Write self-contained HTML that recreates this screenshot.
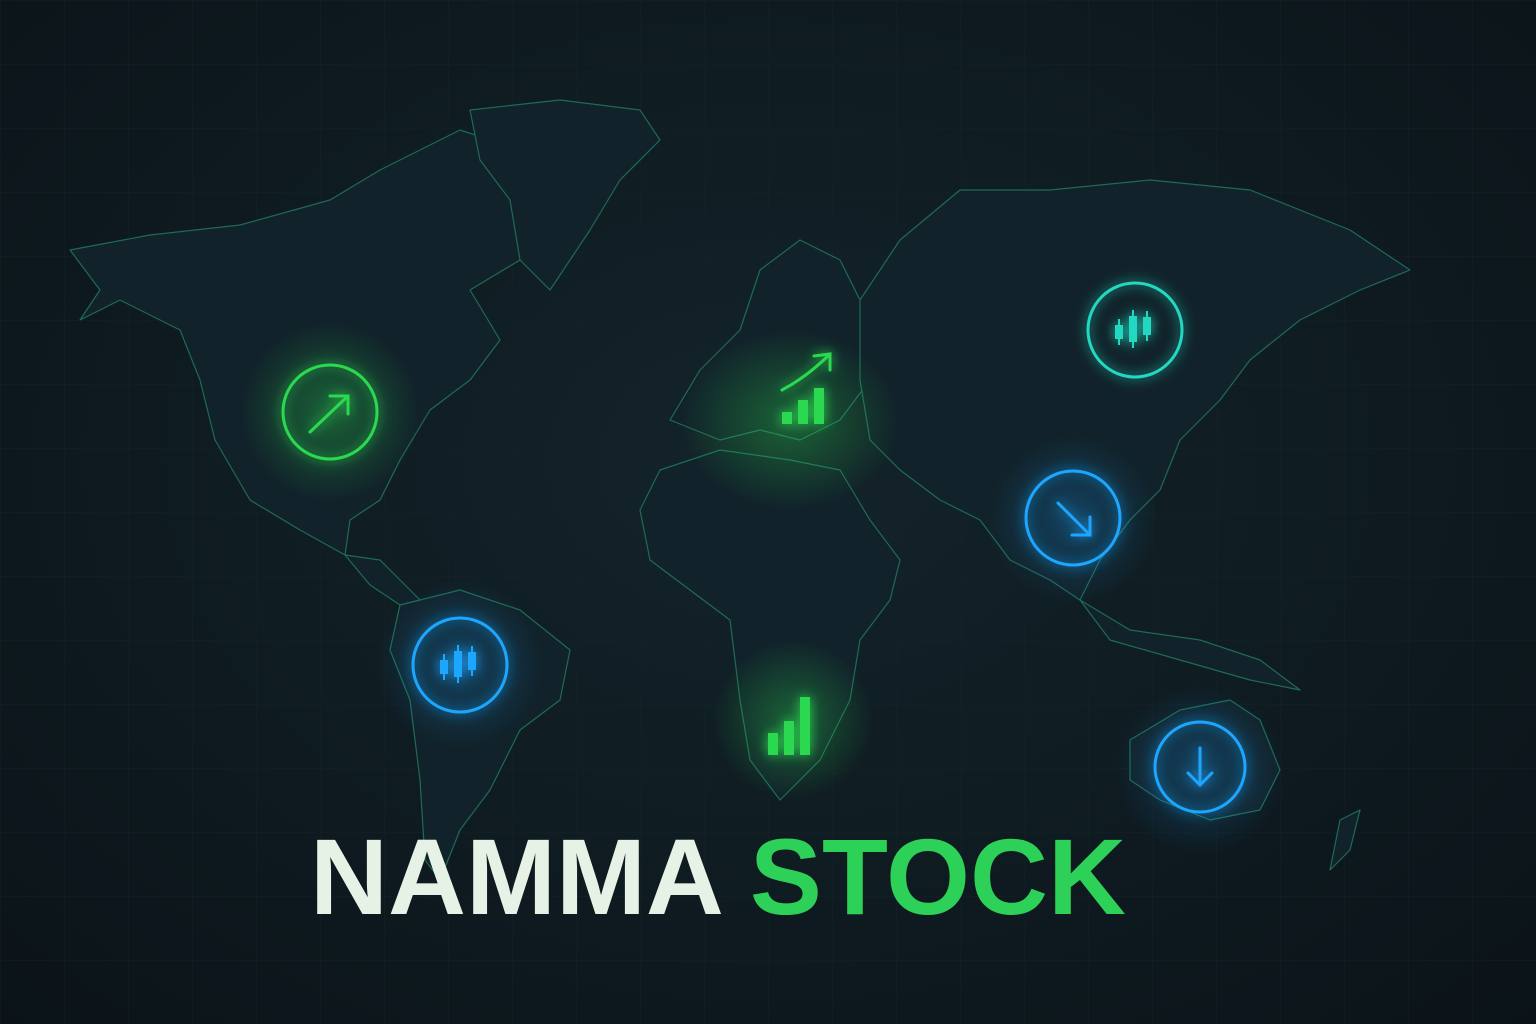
<!DOCTYPE html>
<html><head><meta charset="utf-8"><style>
html,body{margin:0;padding:0;background:#0e181e;}
#wrap{position:relative;width:1536px;height:1024px;overflow:hidden;background:radial-gradient(ellipse at 50% 45%,#13242a 0%,#0e1a20 60%,#0b1318 100%);font-family:"Liberation Sans",sans-serif;}
svg{position:absolute;left:0;top:0}
#title{position:absolute;left:310px;top:812px;white-space:nowrap;font-weight:bold;font-size:108px;letter-spacing:0px;line-height:130px;}
.w{color:#e6f2e6}.g{color:#2ed158}
</style></head><body>
<div id="wrap">
<svg width="1536" height="1024" viewBox="0 0 1536 1024">
<defs>
<filter id="glow" x="-50%" y="-50%" width="200%" height="200%"><feGaussianBlur stdDeviation="6" result="b"/><feMerge><feMergeNode in="b"/><feMergeNode in="SourceGraphic"/></feMerge></filter>
<radialGradient id="gg" cx="50%" cy="50%" r="50%"><stop offset="0" stop-color="#2bd94f" stop-opacity="0.35"/><stop offset="1" stop-color="#2bd94f" stop-opacity="0"/></radialGradient>
<radialGradient id="bg" cx="50%" cy="50%" r="50%"><stop offset="0" stop-color="#1aa0ff" stop-opacity="0.25"/><stop offset="1" stop-color="#1aa0ff" stop-opacity="0"/></radialGradient>
<pattern id="grid" width="64" height="64" patternUnits="userSpaceOnUse"><path d="M64 0H0V64" fill="none" stroke="#17262c" stroke-width="1"/></pattern>
</defs>
<rect width="1536" height="1024" fill="url(#grid)" opacity="0.6"/>
<g fill="#11222a" stroke="#1f6a55" stroke-width="1.2" stroke-linejoin="round">
<path d="M70 250 L150 235 L240 225 L330 200 L380 170 L460 130 L520 150 L560 200 L520 260 L470 290 L500 340 L470 380 L430 410 L400 460 L380 500 L350 520 L345 555 L300 530 L250 500 L215 440 L200 380 L180 330 L120 300 L80 320 L100 290 Z"/>
<path d="M470 110 L560 100 L640 110 L660 140 L620 180 L590 230 L550 290 L520 260 L510 200 L480 160 Z"/>
<path d="M345 555 L380 560 L400 580 L420 600 L400 605 L370 585 Z"/>
<path d="M400 605 L460 590 L520 610 L570 650 L560 700 L520 730 L490 790 L460 830 L440 880 L425 860 L420 780 L410 700 L390 650 Z"/>
<path d="M670 420 L700 370 L740 330 L760 270 L800 240 L840 260 L860 300 L880 330 L870 380 L840 420 L800 440 L760 430 L720 440 Z"/>
<path d="M660 470 L720 450 L790 460 L840 470 L870 520 L900 560 L890 600 L860 640 L850 700 L820 760 L780 800 L750 760 L740 700 L730 620 L690 590 L650 560 L640 510 Z"/>
<path d="M860 300 L900 240 L960 190 L1050 190 L1150 180 L1250 190 L1350 230 L1410 270 L1360 290 L1300 320 L1250 360 L1220 400 L1180 440 L1160 490 L1130 520 L1100 560 L1080 600 L1050 580 L1010 560 L980 520 L940 500 L900 470 L870 440 L860 380 Z"/>
<path d="M1080 600 L1130 630 L1200 640 L1260 660 L1300 690 L1250 680 L1180 660 L1110 640 Z"/>
<path d="M1130 740 L1180 710 L1230 700 L1260 720 L1280 770 L1260 810 L1210 820 L1160 800 L1130 780 Z"/>
<path d="M1340 820 L1360 810 L1350 850 L1330 870 Z"/>
</g>
<ellipse cx="790" cy="420" rx="110" ry="90" fill="url(#gg)"/>
<ellipse cx="330" cy="412" rx="90" ry="90" fill="url(#gg)"/>
<ellipse cx="793" cy="720" rx="80" ry="80" fill="url(#gg)"/>
<ellipse cx="460" cy="665" rx="85" ry="85" fill="url(#bg)"/>
<ellipse cx="1073" cy="518" rx="85" ry="85" fill="url(#bg)"/>
<ellipse cx="1200" cy="770" rx="85" ry="85" fill="url(#bg)"/>
<g fill="none" stroke-width="3" filter="url(#glow)" stroke-linecap="round">
<g stroke="#2bd94f"><circle cx="330" cy="412" r="47"/><path d="M310 432 L348 396 M330 396 L348 396 L348 414"/></g>
<g stroke="#22d8c0"><circle cx="1135" cy="330" r="47"/></g>
<g stroke="#1aa6ff"><circle cx="1073" cy="518" r="47"/><path d="M1058 503 L1090 535 M1090 517 L1090 535 L1072 535"/></g>
<g stroke="#1aa6ff"><circle cx="460" cy="665" r="47"/></g>
<g stroke="#1aa6ff"><circle cx="1200" cy="767" r="45"/><path d="M1200 748 L1200 785 M1188 773 L1200 785 L1212 773"/></g>
<g stroke="#2bd94f"><path d="M782 390 Q805 378 828 356 M814 356 L830 354 L830 370"/></g>
</g>
<g id="bars" filter="url(#glow)"></g>
<g id="candles" filter="url(#glow)"></g>
</svg>
<div id="title"><span class="w">NAMMA</span> <span class="g">STOCK</span></div>
</div>
<script>
const europeBars=[12,24,36];
const africaBars=[22,34,58];
const candleHeights=[14,26,18];
const ns="http://www.w3.org/2000/svg";
const bars=document.getElementById('bars');
function drawBars(vals,x0,base,w,gap,name){
 vals.forEach((v,i)=>{const r=document.createElementNS(ns,'rect');
 r.setAttribute('x',x0+i*(w+gap));r.setAttribute('y',base-v);r.setAttribute('width',w);r.setAttribute('height',v);r.setAttribute('fill','#2bd94f');
 
 
 bars.appendChild(r);});
}
drawBars(europeBars,782,424,10,6,'europe-bar');
drawBars(africaBars,768,755,10,6,'africa-bar');
const candles=document.getElementById('candles');
function drawCandles(cx,cy,color,name){
 candleHeights.forEach((h,i)=>{const x=cx-14+i*14;
 const l=document.createElementNS(ns,'line');
 l.setAttribute('x1',x);l.setAttribute('x2',x);l.setAttribute('y1',cy-h/2-6-i*3);l.setAttribute('y2',cy+h/2+6-i*3);l.setAttribute('stroke',color);l.setAttribute('stroke-width','2');
 
 
 candles.appendChild(l);
 const r=document.createElementNS(ns,'rect');
 r.setAttribute('x',x-4);r.setAttribute('y',cy-h/2-i*3);r.setAttribute('width',8);r.setAttribute('height',h);r.setAttribute('fill',color);
 
 
 candles.appendChild(r);});
}
drawCandles(1133,332,'#22d8c0','asia-candle');
drawCandles(458,667,'#1aa6ff','south-america-candle');
</script>
</body></html>
